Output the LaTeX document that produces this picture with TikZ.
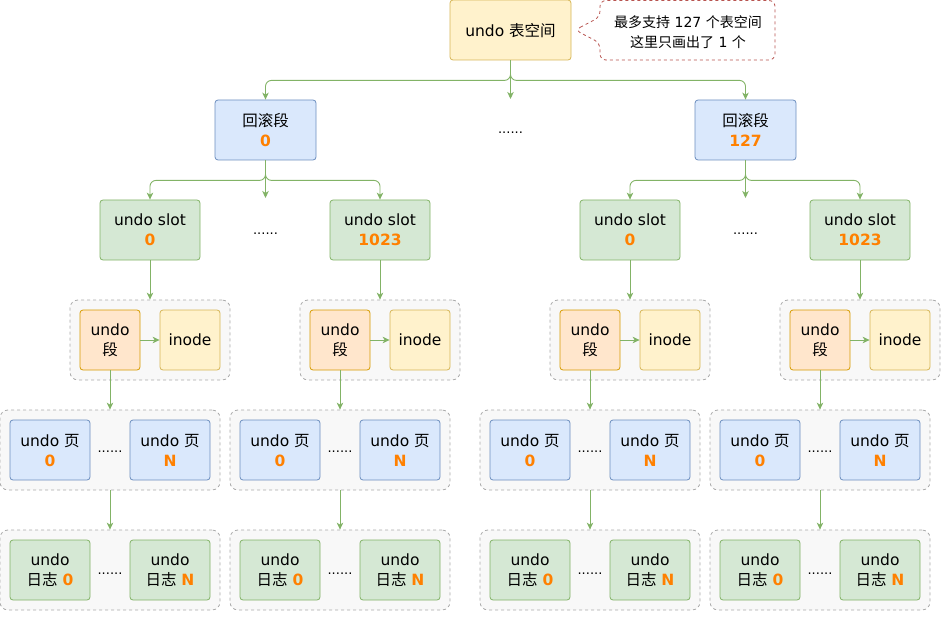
\documentclass[tikz,border=0pt]{standalone}
\usepackage{fontspec}
\setmainfont{DejaVu Sans}
\newfontfamily\cjkfont{Noto Sans CJK SC}
\usetikzlibrary{arrows.meta}
\definecolor{bluefill}{HTML}{DAE8FC}
\definecolor{bluedraw}{HTML}{6C8EBF}
\definecolor{greenfill}{HTML}{D5E8D4}
\definecolor{greendraw}{HTML}{82B366}
\definecolor{yelfill}{HTML}{FFF2CC}
\definecolor{yeldraw}{HTML}{D6B656}
\definecolor{orafill}{HTML}{FFE6CC}
\definecolor{oradraw}{HTML}{D79B00}
\definecolor{numcol}{HTML}{FF8000}
\definecolor{grpfill}{HTML}{F8F8F8}
\definecolor{grpdraw}{HTML}{AAAAAA}
\definecolor{calldraw}{HTML}{B85450}
\newcommand\zh[1]{{\cjkfont #1}}
\newcommand\onum[1]{{\bfseries\color{numcol}#1}}
\tikzset{
  box/.style={draw, rounded corners=3pt, line width=0.8pt, align=center,
    font=\fontsize{15.5}{20}\selectfont, inner sep=0pt, text depth=0pt},
  bluebox/.style={box, fill=bluefill, draw=bluedraw},
  greenbox/.style={box, fill=greenfill, draw=greendraw},
  yelbox/.style={box, fill=yelfill, draw=yeldraw},
  orabox/.style={box, fill=orafill, draw=oradraw},
  grp/.style={draw=grpdraw, fill=grpfill, rounded corners=8pt, line width=0.8pt,
    dash pattern=on 3pt off 3pt, minimum width=#1, minimum height=80, inner sep=0pt},
  arr/.style={draw=greendraw, line width=0.9pt, rounded corners=6pt,
    -{Stealth[length=7pt,width=6.5pt,inset=2pt]}},
  dots/.style={font=\fontsize{13}{13}\selectfont, inner sep=0pt}
}
\begin{document}
\begin{tikzpicture}[x=1pt,y=-1pt]
\useasboundingbox (0,0) rectangle (951,623);
% top
\node[yelbox, minimum width=121, minimum height=60] (ts) at (510.5,30) {undo \zh{表空间}};
\draw[calldraw, line width=0.8pt, dash pattern=on 3pt off 3pt, rounded corners=6pt, fill=white]
  (575,30) -- (600,17) -- (600,0.5) -- (775,0.5) -- (775,60) -- (600,60) -- (600,43) -- cycle;
\node[align=center, font=\fontsize{14}{20}\selectfont] (call) at (688,32)
  {\zh{最多支持} 127 \zh{个表空间}\\\zh{这里只画出了} 1 \zh{个}};
% rollback segments
\node[bluebox, minimum width=101, minimum height=60] (rb0) at (265.5,130) {\zh{回滚段}\\\onum{0}};
\node[bluebox, minimum width=101, minimum height=60] (rb1) at (745.5,130) {\zh{回滚段}\\\onum{127}};
\node[dots] (md) at (510.5,133) {......};
\coordinate (mtop) at (510.5,99);
\draw[arr] (ts.south) -- ++(0,20) -| (rb0.north);
\draw[arr] (ts.south) -- ++(0,20) -| (rb1.north);
\draw[arr] (ts.south) -- (mtop);
% slots
\foreach \c/\n [count=\k] in {150/0,380/1023,630/0,860/1023}{
  \node[greenbox, minimum width=100, minimum height=60] (slot\k) at (\c,230) {undo slot\\\onum{\n}};
  \node[grp=160] (segg\k) at (\c,340) {};
  \node[orabox, minimum width=60, minimum height=60] (useg\k) at (\c-40,340) {undo\\\zh{段}};
  \node[yelbox, minimum width=60, minimum height=60] (inode\k) at (\c+40,340) {inode};
  \node[grp=220] (pgg\k) at (\c-40,450) {};
  \node[bluebox, minimum width=80, minimum height=60] (pa\k) at (\c-100,450) {undo \zh{页}\\\onum{0}};
  \node[bluebox, minimum width=80, minimum height=60] (pb\k) at (\c+20,450) {undo \zh{页}\\\onum{N}};
  \node[dots] (pd\k) at (\c-40,452) {......};
  \node[grp=220] (lgg\k) at (\c-40,570) {};
  \node[greenbox, minimum width=80, minimum height=60] (la\k) at (\c-100,570) {undo\\\zh{日志} \onum{0}};
  \node[greenbox, minimum width=80, minimum height=60] (lb\k) at (\c+20,570) {undo\\\zh{日志} \onum{N}};
  \node[dots] (ld\k) at (\c-40,574) {......};
  \draw[arr] (slot\k.south) -- (segg\k.north);
  \draw[arr] (useg\k.east) -- (inode\k.west);
  \draw[arr] (useg\k.south) -- (pgg\k.north);
  \draw[arr] (pgg\k.south) -- (lgg\k.north);
}
\node[dots] (sd0) at (265.5,234) {......};
\node[dots] (sd1) at (745.5,234) {......};
\coordinate (m0) at (265.5,198);
\coordinate (m1) at (745.5,198);
\draw[arr] (rb0.south) -- ++(0,20) -| (slot1.north);
\draw[arr] (rb0.south) -- ++(0,20) -| (slot2.north);
\draw[arr] (rb0.south) -- (m0);
\draw[arr] (rb1.south) -- ++(0,20) -| (slot3.north);
\draw[arr] (rb1.south) -- ++(0,20) -| (slot4.north);
\draw[arr] (rb1.south) -- (m1);
\end{tikzpicture}
\end{document}
